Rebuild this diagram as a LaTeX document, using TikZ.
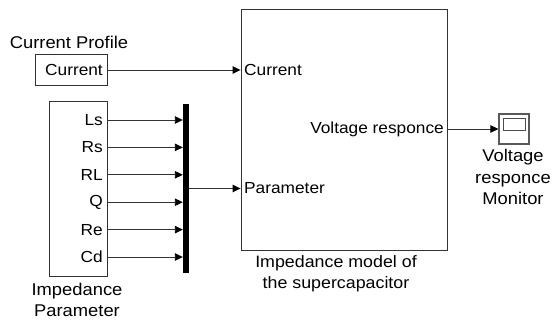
\documentclass[tikz,border=0pt]{standalone}
\usepackage{fontspec}
\setmainfont{Liberation Sans}[FakeStretch=1.08]
\usetikzlibrary{arrows.meta,positioning}

\tikzset{
  block/.style={draw=black!80, line width=0.9pt, inner sep=0pt},
  caption/.style={align=center, inner sep=0pt, font=\fontsize{17}{21.5}\selectfont},
  portlabel/.style={font=\fontsize{16}{20}\selectfont, inner sep=0pt},
  outport/.style={portlabel, text width=66pt, align=right, inner xsep=4pt, minimum height=14pt},
  signal/.style={line width=0.9pt, draw=black!80, -{Triangle[length=8pt,width=7.5pt,black]}}
}

\begin{document}
\begin{tikzpicture}[x=1pt,y=-1pt,node distance=27.4pt]
\useasboundingbox (0,0) rectangle (553,323);

\node (currentbox) [block, minimum width=72pt, minimum height=31pt] at (71,69.5) {};
\node (parambox) [block, minimum width=58pt, minimum height=175pt] at (78,188.5) {};
\node (bar) [fill=black, inner sep=0pt, minimum width=6pt, minimum height=169pt] at (186,188.5) {};
\node (model) [block, minimum width=206pt, minimum height=241pt] at (344,129.5) {};
\node (scope) [block, draw=black!65, line width=1.2pt, minimum width=30pt, minimum height=30pt] at (514,129) {};
\node (screen) [block, draw=black!70, minimum width=22pt, minimum height=12pt] at (514.5,124) {};

\node (current) [outport, anchor=east] at (107,70) {Current};
\node (Ls) [outport, anchor=east] at (107,120) {Ls};
\node (Rs) [outport, below of = Ls] {Rs};
\node (RL) [outport, below of = Rs] {RL};
\node (Q) [outport, below of = RL] {Q};
\node (Re) [outport, below of = Q] {Re};
\node (Cd) [outport, below of = Re] {Cd};

\node (incurrent) [portlabel, anchor=west] at (244,70) {Current};
\node (inparam) [portlabel, anchor=west] at (244,188.5) {Parameter};
\node (outvoltage) [portlabel, anchor=east] at (444,129) {Voltage responce};

\node (profilename) [caption] at (69,42) {Current Profile};
\node (paramname) [caption] at (77,300) {Impedance\\Parameter};
\node (modelname) [caption, font=\fontsize{16.5}{21.5}\selectfont] at (336,273.5) {Impedance model of\\the supercapacitor};
\node (monitorname) [caption] at (513,177) {Voltage\\responce\\Monitor};

\draw[signal] (current.east) -- (current.east -| model.west);
\draw[signal] (Ls.east) -- (Ls.east -| bar.west);
\draw[signal] (Rs.east) -- (Rs.east -| bar.west);
\draw[signal] (RL.east) -- (RL.east -| bar.west);
\draw[signal] (Q.east) -- (Q.east -| bar.west);
\draw[signal] (Re.east) -- (Re.east -| bar.west);
\draw[signal] (Cd.east) -- (Cd.east -| bar.west);
\draw[signal] (bar.east) -- (model.west |- bar.east);
\draw[signal] (outvoltage.east -| model.east) -- (scope.west |- outvoltage.east);

\end{tikzpicture}
\end{document}
